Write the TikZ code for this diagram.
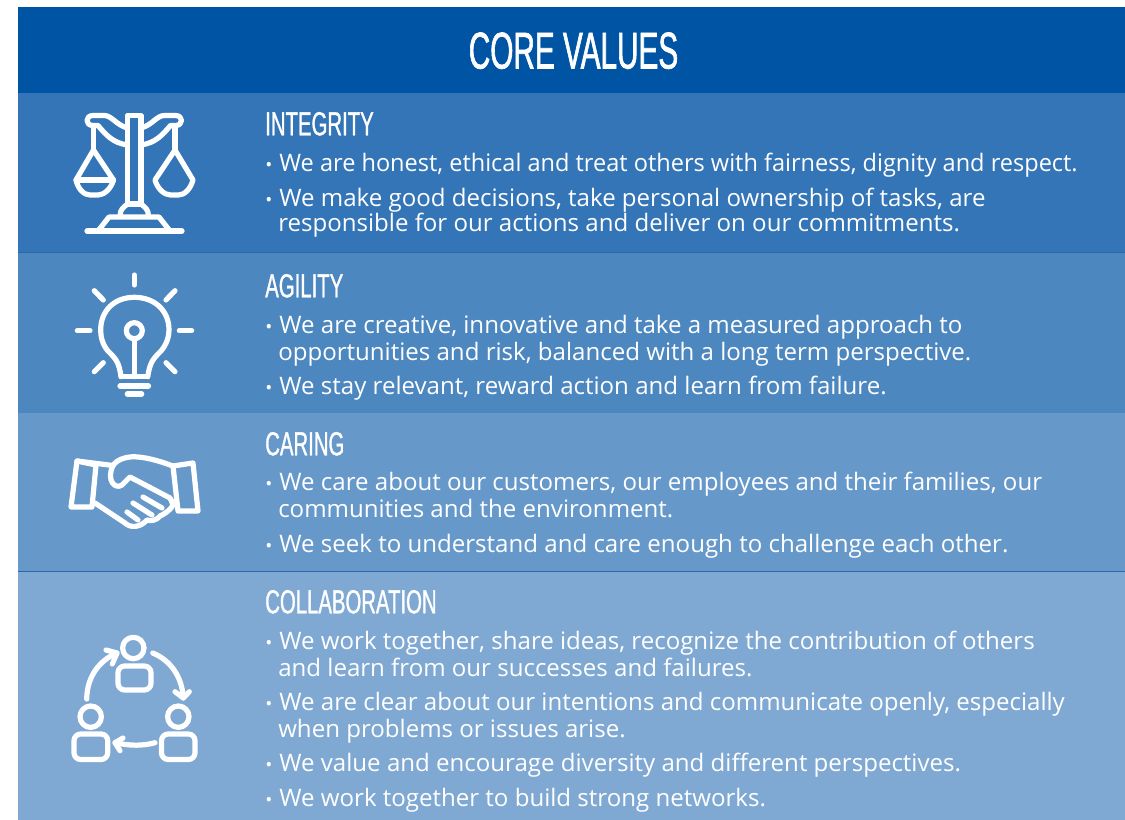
\documentclass[tikz,border=0pt]{standalone}
\usepackage{fontspec}
\usepackage{graphicx}
\setmainfont{Open Sans}
\newfontfamily\titlef[FakeStretch=0.575,FakeBold=1.2]{Liberation Sans}
\newfontfamily\headf[FakeStretch=0.61,FakeBold=0.9]{Liberation Sans}
\definecolor{bandA}{HTML}{0054A4}
\definecolor{bandB}{HTML}{3475B7}
\definecolor{bandC}{HTML}{4D87C0}
\definecolor{bandD}{HTML}{6699CA}
\definecolor{bandE}{HTML}{7FA9D2}
\definecolor{sep}{HTML}{2A68A8}
\tikzset{
  x=0.75pt,y=-0.75pt,
  heading/.style={anchor=base west,text=white,inner sep=0pt,font=\headf\fontsize{25}{25}\selectfont},
  body/.style={anchor=base west,text=white,inner sep=0pt,font=\fontsize{18.05}{20}\selectfont},
  ic/.style={draw=white,line width=3.9pt,line cap=round,line join=round,fill=none},
  bodyshape/.style={rounded corners=5pt},
}
\newcommand{\blt}[2]{\node[body] at (265,#1) {\makebox[10.6pt][l]{\fontsize{14}{14}\selectfont•}#2};}
\newcommand{\cnt}[2]{\node[body] at (278,#1) {#2};}
\begin{document}
\begin{tikzpicture}
\useasboundingbox (0,0) rectangle (1125,820);
\fill[white] (0,0) rectangle (1125,820);
\fill[bandA] (18,7) rectangle (1125,93);
\fill[bandB] (18,93) rectangle (1125,252);
\fill[bandC] (18,253) rectangle (1125,413);
\fill[bandD] (18,413) rectangle (1125,571);
\fill[bandE] (18,572) rectangle (1125,820);
\draw[sep,line width=.6pt] (18,252.5) -- (1125,252.5);
\draw[sep,line width=.6pt] (18,571.5) -- (1125,571.5);
\node[anchor=base,text=white,inner sep=0pt,font=\titlef\fontsize{38.8}{38.8}\selectfont] (title) at (573.5,68.5) {CORE VALUES};
\node[heading] (h1) at (265,135.3) {INTEGRITY};
\blt{171.5}{\scalebox{0.978}[1]{We are honest, ethical and treat others with fairness, dignity and respect.}}
\blt{206.5}{We make good decisions, take personal ownership of tasks, are}
\cnt{232}{responsible for our actions and deliver on our commitments.}
\node[heading] (h2) at (265,297.3) {AGILITY};
\blt{333.5}{We are creative, innovative and take a measured approach to}
\cnt{360}{opportunities and risk, balanced with a long term perspective.}
\blt{394.5}{We stay relevant, reward action and learn from failure.}
\node[heading] (h3) at (265,455.3) {CARING};
\blt{490.5}{We care about our customers, our employees and their families, our}
\cnt{517}{communities and the environment.}
\blt{552}{We seek to understand and care enough to challenge each other.}
\node[heading] (h4) at (265,613.3) {COLLABORATION};
\blt{649.5}{We work together, share ideas, recognize the contribution of others}
\cnt{676}{and learn from our successes and failures.}
\blt{710.5}{We are clear about our intentions and communicate openly, especially}
\cnt{737}{when problems or issues arise.}
\blt{771.5}{We value and encourage diversity and different perspectives.}
\blt{806.5}{We work together to build strong networks.}
% scales
\begin{scope}[ic]
\draw (127.5,115.5) rectangle (141,204);
\draw (87,231) -- (182,231);
\draw (98,231) -- (109,217) -- (159,217) -- (170,231);
\draw (120,216) .. controls (120,209) and (124,207) .. (127.5,204);
\draw (148.5,216) .. controls (148.5,209) and (144.5,207) .. (141,204);
\draw (127.5,128) .. controls (116,125) and (112,115.5) .. (104,115.5) -- (93,115.5)
  .. controls (85,115.5) and (85,125.5) .. (93,125.5) -- (98,125.5) .. controls (106,135) and (113,143) .. (127.5,145);
\draw (141,128) .. controls (152.5,125) and (156.5,115.5) .. (164.5,115.5) -- (175.5,115.5)
  .. controls (183.5,115.5) and (183.5,125.5) .. (175.5,125.5) -- (170.5,125.5) .. controls (162.5,135) and (155.5,143) .. (141,145);
\draw (93.5,126) -- (93.5,150);
\draw (175,126) -- (175,150);
\draw (93.5,150) -- (76,180) .. controls (78,189) and (84,195) .. (90,195) -- (98,195) .. controls (104,195) and (111,189) .. (113.5,180) -- cycle;
\draw (175,150) -- (193,180) .. controls (190.5,189) and (184.5,195) .. (178.5,195) -- (170.5,195) .. controls (164.5,195) and (157.5,189) .. (155,180) -- cycle;
\draw (76,180) -- (113.5,180);
\end{scope}
% bulb
\begin{scope}[ic]
\draw (134.3,275) -- (134.3,285);
\draw (94.3,290.7) -- (103.3,300);
\draw (175,290.7) -- (166,300);
\draw (77.3,330.7) -- (90,330.7);
\draw (179.3,330.7) -- (191.7,330.7);
\draw (94.3,371.7) -- (103.3,362.7);
\draw (175,371.7) -- (166,362.7);
\draw (120,386) -- (148.5,386);
\draw (127.3,394) -- (141.7,394);
\draw (121,376.7) -- (147.7,376.7);
\draw (121,376.7) .. controls (119,362) and (116,359) .. (108,351)
  .. controls (102,344) and (100.7,336) .. (100.7,330)
  .. controls (100.7,310) and (115,297.3) .. (134.3,297.3)
  .. controls (154,297.3) and (169,310) .. (169,330)
  .. controls (169,336) and (167,344) .. (161,351)
  .. controls (153,359) and (150,362) .. (147.7,376.7);
\draw (134.3,330.7) circle (8);
\draw (134.3,338.7) -- (134.3,376.7);
\end{scope}
% handshake
\begin{scope}[ic]
\draw (77,461) -- (96,465) -- (92,507) -- (71,507) -- cycle;
\draw (77,461) -- (113,465.5);
\draw (193,463) -- (173,466) -- (178,511) -- (198,511) -- cycle;
\draw (113,465.5) .. controls (118,458) and (130,456) .. (138,457) .. controls (150,458) and (162,462) .. (173,466);
\draw (113,465.5) .. controls (106,480) and (115,490) .. (122,485) -- (130,477) -- (170,498) -- (172,502);
\draw (95,503) -- (125,523) .. controls (130,528) and (140,528) .. (147,520) .. controls (152,522) and (158,519) .. (160,516) .. controls (167,513) and (176,505) .. (172,502);
\draw (127,512) -- (138,520);
\draw (133,503) -- (152,515);
\draw (143,497) -- (162,508);
\end{scope}
% people
\begin{scope}[ic]
\draw (133.3,648) circle (10.7);
\draw[bodyshape] (118,666) rectangle (151,690);
\draw (90.7,716.7) circle (10.7);
\draw[bodyshape] (74,734) rectangle (107.7,759.5);
\draw (178.3,716.7) circle (10.7);
\draw[bodyshape] (161.5,734) rectangle (195,759.5);
\draw (86.7,699) .. controls (87,676) and (100,660) .. (117,653);
\draw (106,650) -- (117,653) -- (112.3,664);
\draw (152.7,653) .. controls (170,660) and (182,676) .. (183.3,698);
\draw (175,691.7) -- (183.3,698) -- (189.3,691.7);
\draw (155,742.7) .. controls (143,746) and (130,746) .. (115,742.7);
\draw (123,738) -- (115,742.7) -- (120,750.7);
\end{scope}
\end{tikzpicture}
\end{document}
